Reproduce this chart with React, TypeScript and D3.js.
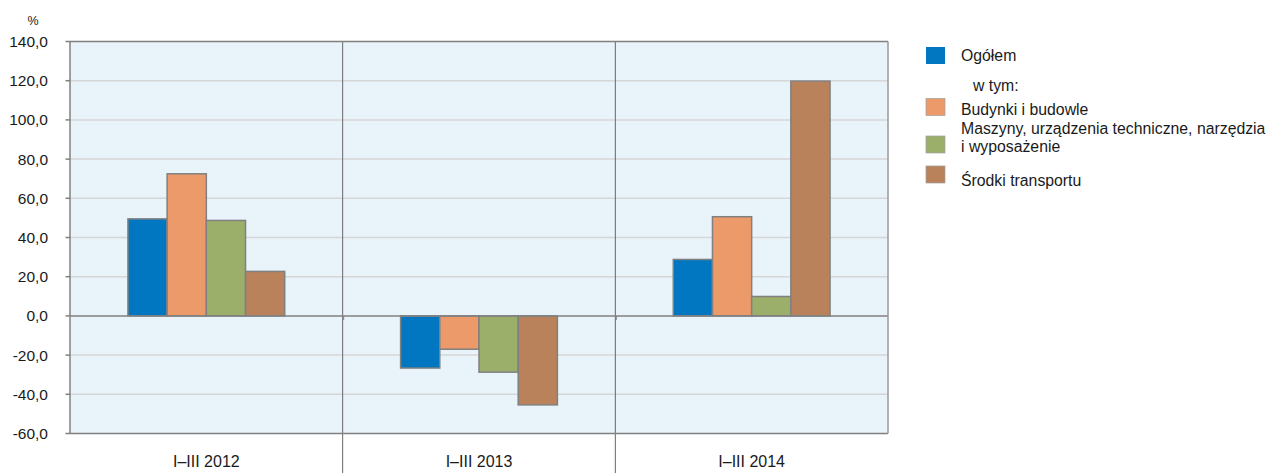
import React from "react";
import * as d3 from "d3";

const categories = ["I–III 2012", "I–III 2013", "I–III 2014"];
const seriesNames = [
  "Ogółem",
  "Budynki i budowle",
  "Maszyny, urządzenia techniczne, narzędzia i wyposażenie",
  "Środki transportu",
];
const ogolem = [49.5, -26.6, 28.8];
const budynki = [72.5, -17.0, 50.6];
const maszyny = [48.7, -28.7, 9.9];
const srodki = [22.7, -45.4, 119.8];
const colors = ["#0077C0", "#EC9A6A", "#9BAF6B", "#B9825B"];
const yTicks = [-60, -40, -20, 0, 20, 40, 60, 80, 100, 120, 140];

const seriesValues = [ogolem, budynki, maszyny, srodki];

const W = 1273;
const H = 473;
const m = { left: 70, right: 888, top: 41.5, bottom: 433.5 };
const FONT = "Liberation Sans, Arial, sans-serif";

export default function App() {
  const y = d3.scaleLinear().domain([-60, 140]).range([m.bottom, m.top]);
  const x0 = d3.scaleBand<string>().domain(categories).range([m.left, m.right]).padding(0);
  const bw = x0.bandwidth();
  const gw = bw * 0.575;
  const x1 = d3
    .scaleBand<string>()
    .domain(seriesNames)
    .range([(bw - gw) / 2, (bw + gw) / 2])
    .padding(0);
  const fmt = (v: number) => v.toFixed(1).replace(".", ",");

  const legendRows = [
    { label: ["Ogółem"], color: colors[0], sq: 47, ty: [61] },
    { label: ["Budynki i budowle"], color: colors[1], sq: 98.5, ty: [115] },
    { label: ["Maszyny, urządzenia techniczne, narzędzia", "i wyposażenie"], color: colors[2], sq: 136, ty: [134, 152] },
    { label: ["Środki transportu"], color: colors[3], sq: 166, ty: [186] },
  ];

  return (
    <svg
      width={W}
      height={H}
      style={{ position: "absolute", left: 0, top: 0, background: "#fff" }}
      fontFamily={FONT}
    >
      <rect x={m.left} y={m.top} width={m.right - m.left} height={m.bottom - m.top} fill="#E9F3FA" />
      {yTicks
        .filter((t) => t !== 0 && t !== 140 && t !== -60)
        .map((t) => (
          <line key={"g" + t} x1={m.left} x2={m.right} y1={y(t)} y2={y(t)} stroke="#D6D6D6" strokeWidth={1.5} />
        ))}
      {categories.slice(1).map((c) => (
        <line key={"s" + c} x1={x0(c)!} x2={x0(c)!} y1={m.top} y2={H} stroke="#666" strokeWidth={1} />
      ))}
      {categories.map((c, ci) =>
        seriesNames.map((s, si) => {
          const v = seriesValues[si][ci];
          const xx = x0(c)! + x1(s)!;
          const y0 = y(Math.max(0, v));
          const h = Math.abs(y(v) - y(0));
          return (
            <rect
              key={c + s}
              x={xx}
              y={y0}
              width={x1.bandwidth()}
              height={h}
              fill={colors[si]}
              stroke="#808080"
              strokeWidth={1.5}
            />
          );
        })
      )}
      <line x1={m.left} x2={m.right} y1={y(0)} y2={y(0)} stroke="#808080" strokeWidth={1.5} />
      {categories.slice(1).map((c) => (
        <line key={"zt" + c} x1={x0(c)! + 1} x2={x0(c)! + 1} y1={y(0)} y2={y(0) + 4} stroke="#808080" strokeWidth={1} />
      ))}
      <line x1={m.left} x2={m.right} y1={m.top} y2={m.top} stroke="#808080" strokeWidth={1.5} />
      <line x1={m.left} x2={m.right} y1={m.bottom} y2={m.bottom} stroke="#808080" strokeWidth={1.5} />
      <line x1={m.right} x2={m.right} y1={m.top} y2={m.bottom} stroke="#999" strokeWidth={1.5} />
      <line x1={m.left} x2={m.left} y1={m.top} y2={m.bottom} stroke="#808080" strokeWidth={1.5} />
      {yTicks.map((t) => (
        <g key={"t" + t}>
          <line x1={m.left - 4.5} x2={m.left} y1={y(t)} y2={y(t)} stroke="#808080" strokeWidth={1.5} />
          <text x={48} y={y(t)} dy="0.35em" textAnchor="end" fontSize={15.5} fill="#1a1a1a">
            {fmt(t)}
          </text>
        </g>
      ))}
      <text x={33} y={21} dy="0.35em" textAnchor="middle" fontSize={12.5} fill="#1a1a1a">
        %
      </text>
      {categories.map((c) => (
        <text key={"c" + c} x={x0(c)! + bw / 2} y={467} textAnchor="middle" fontSize={16} fill="#1a1a1a">
          {c}
        </text>
      ))}
      {legendRows.map((r, i) => (
        <g key={"l" + i}>
          <rect x={926} y={r.sq} width={19} height={17} fill={r.color} stroke={i === 0 ? "none" : "#A0A0A0"} strokeWidth={0.7} />
          {r.label.map((ln, li) => (
            <text key={li} x={961} y={r.ty[li]} fontSize={15.8} fill="#1a1a1a">
              {ln}
            </text>
          ))}
        </g>
      ))}
      <text x={973} y={91} fontSize={15.8} fill="#1a1a1a">
        w tym:
      </text>
    </svg>
  );
}
